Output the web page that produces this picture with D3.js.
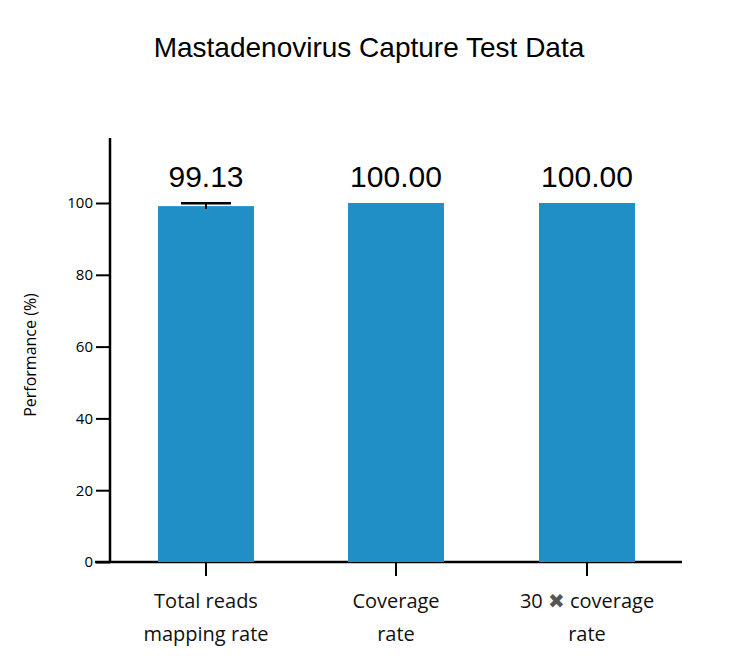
<!DOCTYPE html>
<html><head><meta charset="utf-8">
<script src="https://d3js.org/d3.v7.min.js"></script>
<style>body{margin:0;background:#fff}</style>
</head><body><svg id="c" width="742" height="656"></svg>
<script>
const categories = [["Total reads","mapping rate"],["Coverage","rate"],["30 \u2716 coverage","rate"]];
const values = [99.13, 100.00, 100.00];
const errors = [0.8, 0, 0];
const yTicks = [0,20,40,60,80,100];

const svg = d3.select("#c");
const x0 = 110, x1 = 682, yB = 562;
const y = d3.scaleLinear().domain([0,100]).range([562,203]);
const centers = [206,396,587];
const bw = 96;

svg.append("text").attr("x",369).attr("y",57).attr("text-anchor","middle")
  .attr("font-family","Liberation Sans, Arial").attr("font-size",28).text("Mastadenovirus Capture Test Data");

const yAxis = d3.axisLeft(y).tickValues(yTicks).tickSize(14).tickPadding(3);
const gy = svg.append("g").attr("transform",`translate(${x0},0)`).call(yAxis);
gy.select(".domain").remove();
gy.selectAll("line").attr("stroke","#000").attr("stroke-width",2);
gy.selectAll("text").attr("font-family","Open Sans, sans-serif").attr("font-size",15).attr("fill","#000");
svg.append("line").attr("x1",x0).attr("x2",x0).attr("y1",138).attr("y2",yB+1).attr("stroke","#000").attr("stroke-width",2.5);
svg.append("line").attr("x1",95).attr("x2",x1).attr("y1",yB).attr("y2",yB).attr("stroke","#000").attr("stroke-width",2.5);

svg.selectAll("rect.b").data(values).join("rect").attr("class","b")
  .attr("x",(d,i)=>centers[i]-bw/2).attr("width",bw)
  .attr("y",d=>y(d)).attr("height",d=>yB-y(d)).attr("fill","#1f8fc6");

values.forEach((v,i)=>{
  if(errors[i]>0){
    svg.append("line").attr("x1",centers[i]).attr("x2",centers[i]).attr("y1",y(v+errors[i])).attr("y2",y(v-errors[i])).attr("stroke","#000").attr("stroke-width",2);
    svg.append("line").attr("x1",centers[i]-25).attr("x2",centers[i]+25).attr("y1",y(v+errors[i])).attr("y2",y(v+errors[i])).attr("stroke","#000").attr("stroke-width",2.5);
  }
  svg.append("text").attr("x",centers[i]).attr("y",187).attr("text-anchor","middle")
    .attr("font-family","Liberation Sans, Arial").attr("font-size",30).text(v.toFixed(2));
  svg.append("line").attr("x1",centers[i]).attr("x2",centers[i]).attr("y1",yB).attr("y2",yB+14).attr("stroke","#000").attr("stroke-width",2);
  const t = svg.append("text").attr("text-anchor","middle").attr("font-family","Open Sans, sans-serif").attr("font-size",20).attr("fill","#111");
  categories[i].forEach((line,k)=>{
    const ts = t.append("tspan").attr("x",centers[i]).attr("y",608+k*33);
    if(line.includes("\u2716")){
      const parts=line.split("\u2716");
      ts.text(parts[0]);
      ts.append("tspan").attr("fill","#555").attr("font-family","DejaVu Sans").text("\u2716");
      ts.append("tspan").text(parts[1]);
    } else ts.text(line);
  });
});

svg.append("text").attr("transform","translate(36,355) rotate(-90)").attr("text-anchor","middle")
  .attr("font-family","Open Sans, sans-serif").attr("font-size",16).text("Performance (%)");
</script></body></html>
